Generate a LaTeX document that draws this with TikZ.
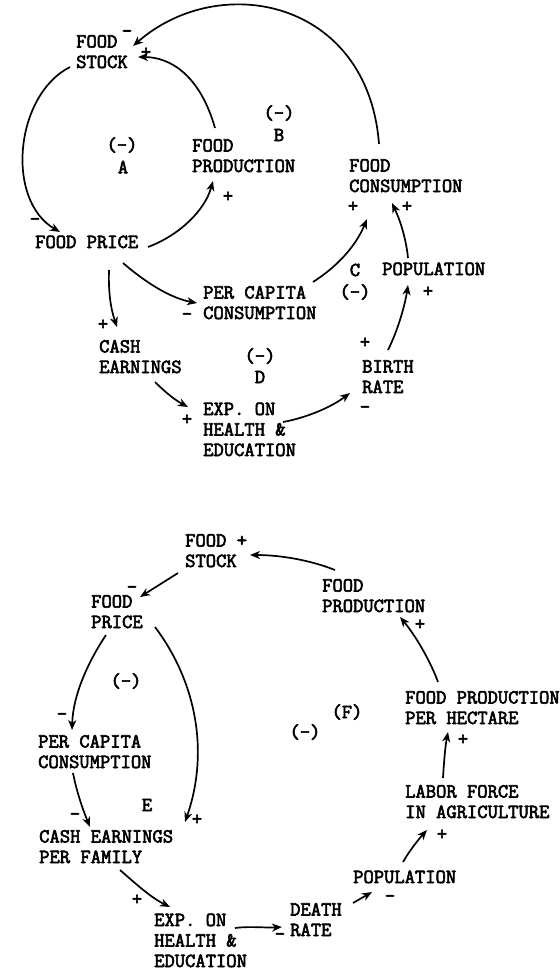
\documentclass[tikz,border=0pt]{standalone}
\usepackage{fontspec}
\setmonofont{Latin Modern Mono}[FakeBold=3]
\usetikzlibrary{arrows.meta}
\newcommand{\twfont}{\ttfamily\fontsize{20}{20.5}\selectfont}
\tikzset{
  lbl/.style={anchor=base west, inner sep=0pt, align=left, font=\twfont},
  sgn/.style={anchor=base, inner sep=0pt, font=\twfont},
  tag/.style={anchor=center, inner sep=0pt, font=\twfont},
  arr/.style={line width=1.7pt, -{Stealth[length=10pt,width=8pt,inset=3pt]}},
}
\begin{document}
\begin{tikzpicture}[x=1pt,y=-1pt]
\useasboundingbox[fill=white] (0,0) rectangle (560,970);
% ---------------- top diagram ----------------
\node[lbl] (fs)    at (76,68)   {FOOD\\STOCK};
\node[lbl] (fp)    at (35,248)  {FOOD PRICE};
\node[lbl] (fprod) at (192,172) {FOOD\\PRODUCTION};
\node[lbl] (fc)    at (349,192) {FOOD\\CONSUMPTION};
\node[lbl] (pc)    at (203,319) {PER CAPITA\\CONSUMPTION};
\node[lbl] (pop)   at (382,275) {POPULATION};
\node[lbl] (ce)    at (99,373)  {CASH\\EARNINGS};
\node[lbl] (br)    at (362,393) {BIRTH\\RATE};
\node[lbl] (exp)   at (203,456) {EXP. ON\\HEALTH \&\\EDUCATION};
\node[tag] (tA1) at (122,145) {(-)};
\node[tag] (tA2) at (123,167) {A};
\node[tag] (tB1) at (279,113) {(-)};
\node[tag] (tB2) at (279,135) {B};
\node[tag] (tC1) at (355,270) {C};
\node[tag] (tC2) at (355,292) {(-)};
\node[tag] (tD1) at (260,356) {(-)};
\node[tag] (tD2) at (260,377) {D};
\node[sgn] (s1)  at (127,37)  {-};
\node[sgn] (s2)  at (146,58)  {+};
\node[sgn] (s3)  at (35,225)  {-};
\node[sgn] (s4)  at (228,202) {+};
\node[sgn] (s5)  at (353,212) {+};
\node[sgn] (s6)  at (407,212) {+};
\node[sgn] (s7)  at (187,320) {-};
\node[sgn] (s8)  at (428,297) {+};
\node[sgn] (s9)  at (103,330) {+};
\node[sgn] (s10) at (365,348) {+};
\node[sgn] (s11) at (365,413) {-};
\node[sgn] (s12) at (187,425) {+};
% connector end points
\coordinate (fcT) at (379,144);   \coordinate (fsR) at (133,46);
\coordinate (fprT) at (215,128);  \coordinate (fsR2) at (138,57);
\coordinate (fsL) at (70,67);     \coordinate (fpL) at (60,232);
\coordinate (fpR) at (148,247);   \coordinate (fprB) at (213,181);
\coordinate (fpB) at (109,270);   \coordinate (ceT) at (117,327);
\coordinate (fpB2) at (123,263);  \coordinate (pcL) at (197,303);
\coordinate (pcR) at (313,282);   \coordinate (fcB1) at (367,219);
\coordinate (popT) at (408,258);  \coordinate (fcB2) at (392,203);
\coordinate (brT) at (388,350);   \coordinate (popB) at (408,285);
\coordinate (ceB) at (155,382);   \coordinate (expL) at (188,407);
\coordinate (expR) at (283,422);  \coordinate (brL) at (350,393);
\draw[arr] (fcT) .. controls (368,0) and (220,-30) .. (fsR);
\draw[arr] (fprT) .. controls (200,75) and (170,57) .. (fsR2);
\draw[arr] (fsL) .. controls (15,95) and (5,200) .. (fpL);
\draw[arr] (fpR) .. controls (180,235) and (205,210) .. (fprB);
\draw[arr] (fpB) .. controls (108,300) and (113,315) .. (ceT);
\draw[arr] (fpB2) .. controls (145,282) and (170,298) .. (pcL);
\draw[arr] (pcR) .. controls (335,268) and (355,248) .. (fcB1);
\draw[arr] (popT) .. controls (406,238) and (400,220) .. (fcB2);
\draw[arr] (brT) .. controls (398,330) and (405,305) .. (popB);
\draw[arr] (ceB) .. controls (165,392) and (175,400) .. (expL);
\draw[arr] (expR) .. controls (305,418) and (330,408) .. (brL);
% ---------------- bottom diagram ----------------
\node[lbl] (fs2)    at (185,567) {FOOD +\\STOCK};
\node[lbl] (fp2)    at (91,628)  {FOOD\\PRICE};
\node[lbl] (fprod2) at (322,612) {FOOD\\PRODUCTION};
\node[lbl] (fpph)   at (405,724) {FOOD PRODUCTION\\PER HECTARE};
\node[lbl] (pc2)    at (38,768)  {PER CAPITA\\CONSUMPTION};
\node[lbl] (lab)    at (405,818) {LABOR FORCE\\IN AGRICULTURE};
\node[lbl] (ce2)    at (39,863)  {CASH EARNINGS\\PER FAMILY};
\node[lbl] (pop2)   at (353,883) {POPULATION};
\node[lbl] (dr)     at (290,936) {DEATH\\RATE};
\node[lbl] (exp2)   at (154,967) {EXP. ON\\HEALTH \&\\EDUCATION};
\node[tag] (tE0) at (126,681) {(-)};
\node[tag] (tF1) at (347,712) {(F)};
\node[tag] (tF2) at (305,732) {(-)};
\node[tag] (tE)  at (147,805) {E};
\node[sgn] (s13) at (132,593) {-};
\node[sgn] (s14) at (62,720)  {-};
\node[sgn] (s15) at (197,825) {+};
\node[sgn] (s16) at (75,820)  {-};
\node[sgn] (s17) at (137,905) {+};
\node[sgn] (s18) at (280,940) {-};
\node[sgn] (s19) at (390,902) {-};
\node[sgn] (s20) at (442,840) {+};
\node[sgn] (s21) at (463,745) {+};
\node[sgn] (s22) at (420,630) {+};
\coordinate (fpr2L) at (335,570);  \coordinate (fs2R) at (250,555);
\coordinate (fs2B) at (178,573);   \coordinate (fp2T) at (140,597);
\coordinate (fp2B) at (106,635);   \coordinate (pc2T) at (72,730);
\coordinate (fp2R) at (155,627);   \coordinate (ce2R) at (185,822);
\coordinate (pc2B) at (73,773);    \coordinate (ce2T) at (90,827);
\coordinate (ce2B) at (120,870);   \coordinate (exp2T) at (170,907);
\coordinate (exp2R) at (235,928);  \coordinate (drL) at (282,927);
\coordinate (drR) at (353,903);    \coordinate (pop2L) at (372,892);
\coordinate (pop2T) at (403,862);  \coordinate (labB) at (427,830);
\coordinate (labT) at (443,778);   \coordinate (fpphB) at (448,732);
\coordinate (fpphT) at (438,682);  \coordinate (fpr2B) at (400,617);
\draw[arr] (fpr2L) .. controls (310,560) and (280,555) .. (fs2R);
\draw[arr] (fs2B) -- (fp2T);
\draw[arr] (fp2B) .. controls (88,662) and (73,695) .. (pc2T);
\draw[arr] (fp2R) .. controls (195,680) and (210,750) .. (ce2R);
\draw[arr] (pc2B) .. controls (77,793) and (83,810) .. (ce2T);
\draw[arr] (ce2B) .. controls (135,883) and (150,897) .. (exp2T);
\draw[arr] (exp2R) .. controls (250,926) and (265,928) .. (drL);
\draw[arr] (drR) -- (pop2L);
\draw[arr] (pop2T) .. controls (410,850) and (418,840) .. (labB);
\draw[arr] (labT) .. controls (444,762) and (445,748) .. (fpphB);
\draw[arr] (fpphT) .. controls (430,660) and (415,635) .. (fpr2B);
\end{tikzpicture}
\end{document}
